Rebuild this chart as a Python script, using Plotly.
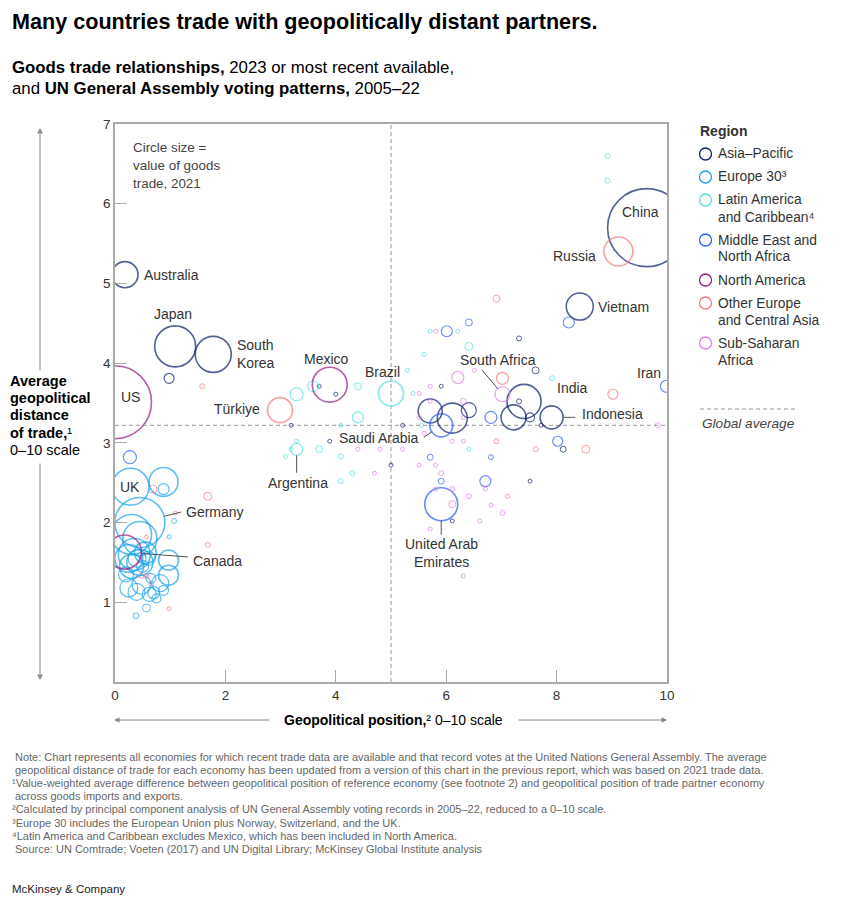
import plotly.graph_objects as go

# the page body adds an 8px margin, so the figure starts at (8, 8) in the window
OFF = 8
W, H = 847, 907
L, R, T, B = 115 - OFF, 180, 124 - OFF, 225

REGIONS = [
    "Asia–Pacific",
    "Europe 30³",
    "Latin America<br>and Caribbean⁴",
    "Middle East and<br>North Africa",
    "North America",
    "Other Europe<br>and Central Asia",
    "Sub-Saharan<br>Africa",
]
COLORS = ["#0A1F6E", "#1AA3EC", "#4FE3E0", "#2D5BFF", "#921E82", "#F47A7A", "#E47DEE"]

# x = geopolitical position (0-10), y = average geopolitical distance of trade,
# trade = value of goods trade, $ billion (read off circle sizes)
ASIA_X = [9.63, 1.09, 1.78, 0.18, 8.42, 7.41, 7.91, 0.98, 3.19, 3.70, 4.00, 3.89, 5.21, 5.00,
          5.91, 5.71, 6.11, 6.41, 7.22, 7.52, 7.72, 7.32, 7.32, 7.62, 8.12, 7.52, 6.11]
ASIA_Y = [5.70, 4.21, 4.11, 5.11, 4.71, 3.52, 3.32, 3.81, 3.22, 3.71, 3.61, 3.02, 3.22, 2.72,
          3.71, 3.40, 3.31, 3.41, 3.32, 3.32, 3.22, 3.52, 4.31, 3.91, 2.92, 2.52, 2.02]
ASIA_TRADE = [6080, 1680, 1300, 680, 730, 1160, 530, 100, 16, 16, 16, 16, 16, 16,
              16, 576, 900, 225, 625, 81, 16, 25, 25, 49, 36, 16, 16]

EU_X = [0.28, 0.45, 0.88, 0.88, 0.30, 0.45, 0.35, 0.25, 0.45, 0.30, 0.55, 0.40, 0.60, 0.50, 0.97,
        0.97, 0.82, 0.48, 0.39, 0.25, 0.62, 0.70, 0.57, 0.38, 1.07, 0.98, 0.88, 0.75, 0.20, 0.65]
EU_Y = [2.45, 2.00, 2.51, 2.42, 1.85, 1.80, 1.60, 1.55, 1.50, 1.45, 1.62, 1.55, 1.55, 1.45, 1.53,
        1.34, 1.24, 1.22, 1.13, 1.18, 1.10, 1.12, 0.93, 0.83, 2.02, 1.82, 1.15, 1.05, 1.35, 1.30]
EU_TRADE = [1370, 2500, 840, 121, 1600, 1160, 1020, 780, 680, 580, 480, 320, 200, 144, 400,
            400, 290, 360, 290, 320, 200, 144, 64, 36, 25, 16, 100, 81, 225, 100]

LAT_X = [5.00, 3.29, 3.29, 3.59, 4.40, 4.40, 4.09, 5.30, 5.60, 5.40, 3.29, 3.19, 3.09,
         3.70, 4.09, 4.30, 4.09, 6.41, 5.71, 6.21, 7.92, 5.55, 6.41, 8.92, 8.92]
LAT_Y = [3.62, 2.92, 3.61, 3.71, 3.71, 3.32, 3.22, 3.91, 4.11, 3.62, 3.02, 2.92, 2.83,
         2.92, 2.83, 2.62, 2.52, 4.21, 4.40, 4.40, 3.81, 3.22, 2.92, 6.60, 6.29]
LAT_TRADE = [625, 144, 170, 121, 49, 121, 16, 16, 16, 16, 16, 16, 16,
             49, 25, 25, 25, 64, 16, 16, 25, 16, 16, 25, 25]

MENA_X = [5.91, 5.91, 9.99, 0.27, 6.41, 6.01, 8.22, 6.81, 8.02, 5.71, 5.91, 6.81, 6.71]
MENA_Y = [3.22, 2.23, 3.71, 2.82, 4.51, 4.40, 4.51, 3.32, 3.02, 2.82, 2.52, 2.82, 2.52]
MENA_TRADE = [530, 1090, 144, 170, 49, 121, 121, 144, 100, 36, 36, 25, 121]

NA_X = [0.00, 3.89, 0.17]
NA_Y = [3.51, 3.73, 1.63]
NA_TRADE = [5330, 1220, 1160]

OE_X = [9.12, 2.99, 1.58, 6.91, 7.02, 9.02, 6.91, 7.62, 8.53, 7.11, 0.69, 1.68, 1.09, 0.57,
        1.68, 0.48, 0.57, 0.66, 0.98]
OE_Y = [5.40, 3.41, 3.71, 4.81, 3.81, 3.61, 3.02, 2.92, 2.92, 2.33, 2.42, 2.33, 2.12, 1.82,
        1.72, 1.33, 1.33, 1.23, 0.92]
OE_TRADE = [840, 625, 25, 49, 144, 100, 25, 25, 64, 16, 64, 64, 16, 16, 25, 25, 25, 25, 16]

SSA_X = [7.02, 6.21, 5.51, 5.71, 5.71, 6.31, 6.31, 5.51, 5.60, 6.11, 6.31, 4.40, 4.80, 5.21, 4.70,
         5.51, 5.81, 5.81, 6.11, 6.11, 5.71, 5.81, 6.51, 9.83, 5.91, 6.71, 6.41, 6.81, 7.02, 6.61, 6.31]
SSA_Y = [3.61, 3.82, 3.62, 3.71, 3.52, 3.52, 3.32, 3.32, 3.12, 3.02, 3.02, 2.92, 2.92, 2.92, 2.62,
         2.72, 2.72, 2.42, 2.42, 2.23, 1.92, 4.40, 3.91, 3.22, 2.62, 2.42, 2.33, 2.22, 2.12, 2.02, 1.33]
SSA_TRADE = [225, 144, 16, 16, 16, 36, 16, 16, 16, 16, 16, 16, 16, 16, 16,
             16, 16, 16, 25, 49, 16, 16, 16, 25, 25, 16, 25, 16, 25, 16, 16]

GLOBAL_AVG = 3.22
MIDPOINT = 5

Y_TITLE = ["<b>Average</b>", "<b>geopolitical</b>", "<b>distance</b>", "<b>of trade,</b>¹", "0–10 scale"]

NOTES = [
    "Note: Chart represents all economies for which recent trade data are available and that record votes at the United Nations General Assembly. The average",
    "geopolitical distance of trade for each economy has been updated from a version of this chart in the previous report, which was based on 2021 trade data.",
    "¹Value-weighted average difference between geopolitical position of reference economy (see footnote 2) and geopolitical position of trade partner economy",
    "across goods imports and exports.",
    "²Calculated by principal component analysis of UN General Assembly voting records in 2005–22, reduced to a 0–10 scale.",
    "³Europe 30 includes the European Union plus Norway, Switzerland, and the UK.",
    "⁴Latin America and Caribbean excludes Mexico, which has been included in North America.",
    "Source: UN Comtrade; Voeten (2017) and UN Digital Library; McKinsey Global Institute analysis",
]

FONT = "Liberation Sans, Arial, sans-serif"
TEXT = "#333333"
PLOT_W = W - OFF - L - R
PLOT_H = H - OFF - T - B


def px_x(px):
    # window pixel -> paper fraction
    return (px - OFF - L) / PLOT_W


def px_y(py):
    return (H - OFF - B - (py - OFF)) / PLOT_H


series = [
    (ASIA_X, ASIA_Y, ASIA_TRADE),
    (EU_X, EU_Y, EU_TRADE),
    (LAT_X, LAT_Y, LAT_TRADE),
    (MENA_X, MENA_Y, MENA_TRADE),
    (NA_X, NA_Y, NA_TRADE),
    (OE_X, OE_Y, OE_TRADE),
    (SSA_X, SSA_Y, SSA_TRADE),
]

fig = go.Figure()
for name, color, (xs, ys, trade) in zip(REGIONS, COLORS, series):
    widths = [1.6 if v >= 400 else 1.2 if v >= 81 else 1.0 for v in trade]
    fig.add_trace(go.Scatter(
        x=xs, y=ys, mode="markers", name=name.replace("<br>", " "), showlegend=False,
        customdata=trade,
        hovertemplate="%{x:.1f}, %{y:.1f}<br>$%{customdata} bn<extra>%{fullData.name}</extra>",
        marker=dict(size=trade, sizemode="area", sizeref=2, color="rgba(0,0,0,0)",
                    line=dict(color=color, width=widths)),
    ))

annotations = []

# country labels placed next to their circles
labels = [
    ("China", ASIA_X[0], ASIA_Y[0], "center", -6, 16),
    ("Russia", OE_X[0], OE_Y[0], "right", -20, -4),
    ("Vietnam", ASIA_X[4], ASIA_Y[4], "left", 16, 0),
    ("Australia", ASIA_X[3], ASIA_Y[3], "left", 17, 0),
    ("Japan", ASIA_X[1], ASIA_Y[1], "center", -2, 32),
    ("South<br>Korea", ASIA_X[2], ASIA_Y[2], "left", 22, 0),
    ("US", NA_X[0], NA_Y[0], "center", 15, 5),
    ("Mexico", NA_X[1], NA_Y[1], "center", -3, 26),
    ("Brazil", LAT_X[0], LAT_Y[0], "center", -9, 21),
    ("Türkiye", OE_X[1], OE_Y[1], "right", -18, 1),
    ("India", ASIA_X[5], ASIA_Y[5], "left", 31, 13),
    ("Iran", MENA_X[2], MENA_Y[2], "right", -3, 13),
    ("UK", EU_X[0], EU_Y[0], "center", 0, 0),
    ("Argentina", LAT_X[1], LAT_Y[1], "center", 1, -34),
    ("Saudi Arabia", MENA_X[0], MENA_Y[0], "right", -20, -13),
    ("South Africa", SSA_X[0], SSA_Y[0], "center", -5, 34),
    ("Indonesia", ASIA_X[6], ASIA_Y[6], "left", 28, 3),
    ("United Arab<br>Emirates", MENA_X[1], MENA_Y[1], "center", 0, -49),
    ("Germany", EU_X[1], EU_Y[1], "left", 44, 11),
    ("Canada", NA_X[2], NA_Y[2], "left", 67, -9),
]
for text, x, y, anchor, dx, dy in labels:
    annotations.append(dict(
        x=x, y=y, xref="x", yref="y", text=text, showarrow=False,
        xanchor=anchor, yanchor="middle", xshift=dx, yshift=dy, align=anchor,
        font=dict(family=FONT, size=14, color=TEXT),
    ))

# leader lines
leaders = [
    (LAT_X[1], LAT_Y[1], 0, 25, 6),
    (MENA_X[0], MENA_Y[0], -19, 13, 11),
    (SSA_X[0], SSA_Y[0], -22, -26, 7),
    (ASIA_X[6], ASIA_Y[6], 25, 0, 11),
    (MENA_X[1], MENA_Y[1], 0, 32, 16),
    (EU_X[1], EU_Y[1], 43, -11, 25),
    (NA_X[2], NA_Y[2], 65, 5, 17),
]
for x, y, ax, ay, stand in leaders:
    annotations.append(dict(
        x=x, y=y, xref="x", yref="y", text="", showarrow=True, arrowhead=0,
        arrowwidth=1, arrowcolor="#555555", ax=ax, ay=ay, standoff=stand,
    ))


def note(px, py, text, size=13, color=TEXT, anchor="left"):
    annotations.append(dict(
        x=px_x(px), y=px_y(py), xref="paper", yref="paper", xanchor=anchor, yanchor="middle",
        align=anchor, showarrow=False, text=text, font=dict(family=FONT, size=size, color=color),
    ))


# circle size note
for i, line in enumerate(["Circle size =", "value of goods", "trade, 2021"]):
    note(131, 148 + i * 17.5, line, 13.4, "#444444")

# titles
note(10, 21, "<b>Many countries trade with geopolitically distant partners.</b>", 21.6, "#000000")
note(10, 68, "<b>Goods trade relationships,</b> 2023 or most recent available,", 16.8, "#000000")
note(10, 88, "and <b>UN General Assembly voting patterns,</b> 2005–22", 16.8, "#000000")

# axis titles
for i, line in enumerate(Y_TITLE):
    note(8, 381 + i * 17.2, line, 14.5, "#000000")
note(393, 720, "<b>Geopolitical position,</b>² 0–10 scale", 14, "#000000", "center")

# axis arrows
for hx, hy, ax, ay in [(40, 128, 0, 244), (40, 680, 0, -218), (114, 720, 157, 0), (667, 720, -150, 0)]:
    annotations.append(dict(
        x=px_x(hx), y=px_y(hy), xref="paper", yref="paper", text="", showarrow=True,
        arrowhead=2, arrowsize=1.1, arrowwidth=1, arrowcolor="#888888", ax=ax, ay=ay,
    ))

# legend
note(698, 131, "<b>Region</b>", 14)
shapes = []
legend_rows = [154, 177, 200, 240, 280, 303, 343]
for name, color, cy in zip(REGIONS, COLORS, legend_rows):
    shapes.append(dict(
        type="circle", xref="paper", yref="paper",
        x0=px_x(699.5), x1=px_x(711.5), y0=px_y(cy + 6), y1=px_y(cy - 6),
        line=dict(color=color, width=1.3), fillcolor="rgba(0,0,0,0)",
    ))
    for j, part in enumerate(name.split("<br>")):
        note(716, cy + j * 17, part, 13.8)
shapes.append(dict(
    type="line", xref="paper", yref="paper", x0=px_x(700), x1=px_x(797), y0=px_y(409), y1=px_y(409),
    line=dict(color="#999999", width=1, dash="4px,3px"),
))
note(700, 423, "<i>Global average</i>", 13.6, "#444444")

# reference lines
shapes.append(dict(
    type="line", xref="x", yref="y", x0=MIDPOINT, x1=MIDPOINT, y0=0, y1=7, layer="below",
    line=dict(color="#999999", width=1, dash="4px,3px"),
))
shapes.append(dict(
    type="line", xref="x", yref="y", x0=0, x1=10, y0=GLOBAL_AVG, y1=GLOBAL_AVG, layer="below",
    line=dict(color="#999999", width=1, dash="4px,3px"),
))

# footnotes
for i, line in enumerate(NOTES):
    indent = 10 if line[0] in "¹²³⁴" else 13
    note(indent, 757 + i * 13.1, line, 11, "#666666")
note(10, 889, "McKinsey & Company", 11.5, "#222222")

axis_common = dict(
    showgrid=False, zeroline=False, showline=True, mirror=True, linecolor="#aaaaaa", linewidth=1.5,
    ticks="inside", ticklen=12, tickcolor="#aaaaaa", tickwidth=1,
    tickfont=dict(family=FONT, size=13.5, color=TEXT), fixedrange=True,
)

fig.update_layout(
    width=W - OFF, height=H - OFF,
    margin=dict(l=L, r=R, t=T, b=B),
    paper_bgcolor="white", plot_bgcolor="white",
    xaxis=dict(range=[0, 10], tickvals=[0, 2, 4, 6, 8, 10], **axis_common),
    yaxis=dict(range=[0, 7], tickvals=[1, 2, 3, 4, 5, 6, 7], **axis_common),
    annotations=annotations,
    shapes=shapes,
    font=dict(family=FONT),
    hovermode="closest",
)

fig.write_html("out.html")
